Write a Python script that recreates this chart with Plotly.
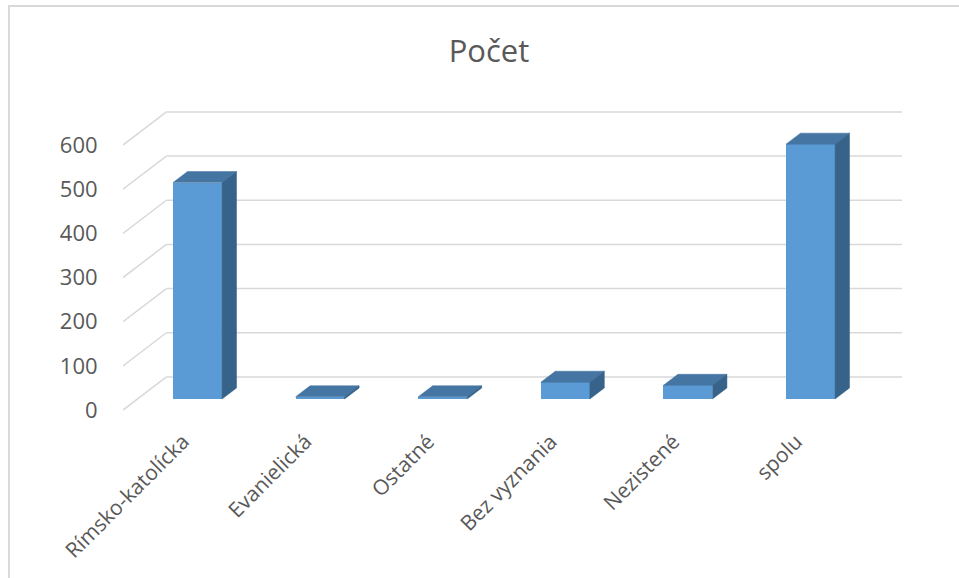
import plotly.graph_objects as go

# ---- data ----
categories = ["Rímsko-katolícka", "Evanielická", "Ostatné", "Bez vyznania", "Nezistené", "spolu"]
values = [490, 5, 5, 38, 31, 577]
y_ticks = [0, 100, 200, 300, 400, 500, 600]
y_tick_labels = [str(v) for v in y_ticks]
chart_title = "Počet"

# ---- 3D (oblique) projection parameters ----
DX = 0.118   # one depth step, in category units
DY = 25      # one depth step, in value units
HW = 0.2     # half bar width (category units)
X_LEFT = -0.608
X_RIGHT = 5.746

FRONT = "#5B9BD5"
TOP = "#4575A2"
SIDE = "#37628A"
GRID = "#D9D9D9"
TEXT = "#595959"
FONT = "Open Sans"

fig = go.Figure()

# walls / gridlines (behind everything)
for v in y_ticks:
    fig.add_shape(type="line", xref="x", yref="y", layer="below",
                  x0=X_LEFT, y0=v - DY, x1=X_LEFT + 3 * DX, y1=v + 2 * DY,
                  line=dict(color=GRID, width=1.5))
    fig.add_shape(type="line", xref="x", yref="y", layer="below",
                  x0=X_LEFT + 3 * DX, y0=v + 2 * DY, x1=X_RIGHT, y1=v + 2 * DY,
                  line=dict(color=GRID, width=1.5))

xs = list(range(len(categories)))

# front faces
fig.add_trace(go.Bar(x=xs, y=values, width=2 * HW, marker=dict(color=FRONT, line=dict(width=0)),
                     hoverinfo="skip", showlegend=False))

# top faces
tx, ty = [], []
for i, v in zip(xs, values):
    tx += [i - HW, i + HW, i + HW + DX, i - HW + DX, i - HW, None]
    ty += [v, v, v + DY, v + DY, v, None]
fig.add_trace(go.Scatter(x=tx, y=ty, mode="lines", fill="toself", fillcolor=TOP,
                         line=dict(width=0.5, color=TOP), hoverinfo="skip", showlegend=False))

# side faces
sx, sy = [], []
for i, v in zip(xs, values):
    sx += [i + HW, i + HW + DX, i + HW + DX, i + HW, i + HW, None]
    sy += [0, DY, v + DY, v, 0, None]
fig.add_trace(go.Scatter(x=sx, y=sy, mode="lines", fill="toself", fillcolor=SIDE,
                         line=dict(width=0.5, color=SIDE), hoverinfo="skip", showlegend=False))

# chart area border (left and top edges visible)
fig.add_shape(type="path", xref="paper", yref="paper", layer="below",
              path="M -0.1463 -0.6 L -0.1463 1.3013 L 1.2 1.3013",
              line=dict(color=GRID, width=2))

fig.update_layout(
    width=959, height=578, autosize=False,
    margin=dict(l=123, r=57, t=100, b=166, autoexpand=False),
    paper_bgcolor="white", plot_bgcolor="rgba(0,0,0,0)",
    font=dict(family=FONT, color=TEXT, size=20),
    title=dict(text=chart_title, x=489 / 959, xanchor="center", y=1 - 51 / 578, yanchor="middle",
               xref="container", yref="container", font=dict(size=31, color=TEXT, family=FONT)),
    xaxis=dict(range=[X_LEFT, X_RIGHT], tickmode="array",
               tickvals=[i - DX for i in xs], ticktext=categories, tickangle=-45,
               showgrid=False, zeroline=False, showline=False,
               ticks="outside", ticklen=8, tickcolor="rgba(0,0,0,0)",
               tickfont=dict(size=21, color=TEXT, family=FONT), automargin=False, fixedrange=True),
    yaxis=dict(range=[-29.4, 677], tickmode="array",
               tickvals=[v - DY for v in y_ticks], ticktext=y_tick_labels,
               showgrid=False, zeroline=False, showline=False,
               ticks="outside", ticklen=20, tickcolor="rgba(0,0,0,0)",
               tickfont=dict(size=22, color=TEXT, family=FONT), automargin=False, fixedrange=True),
    bargap=0,
)

fig.write_html("out.html", config={"displayModeBar": False},
               post_script="document.body.style.margin='0';")
